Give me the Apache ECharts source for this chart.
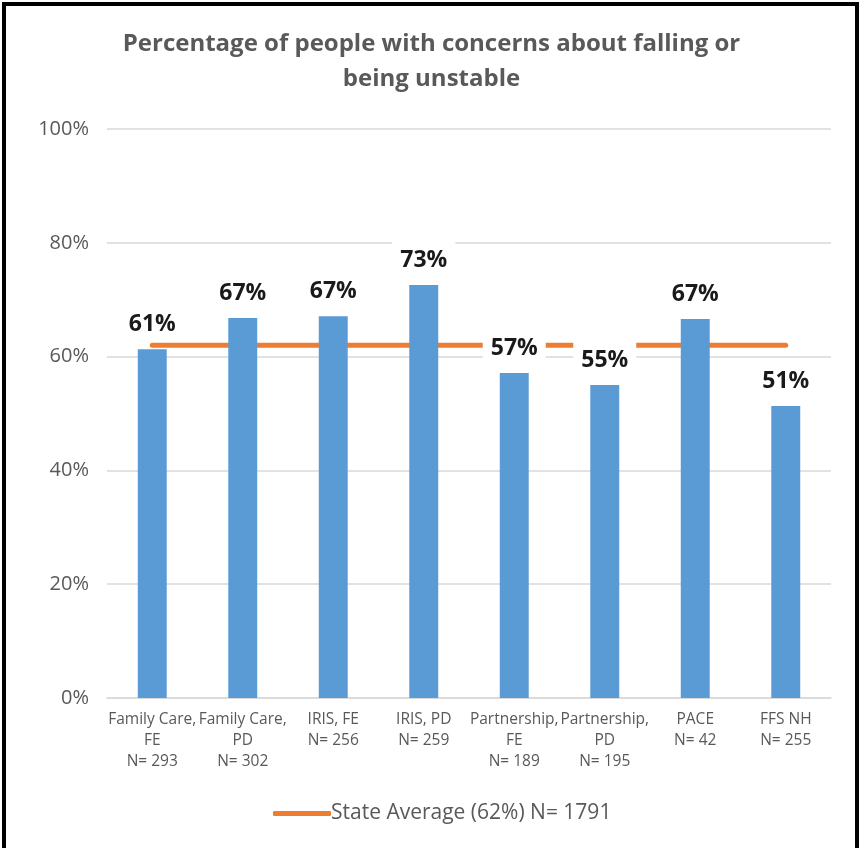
<!DOCTYPE html>
<html><head><meta charset="utf-8">
<script src="https://cdn.jsdelivr.net/npm/echarts@6/dist/echarts.min.js"></script>
<style>html,body{margin:0;padding:0;background:#fff}#c{width:863px;height:848px}</style>
</head><body><div id="c"></div>
<script>
const categories = ["Family Care,\nFE\nN= 293","Family Care,\nPD\nN= 302","IRIS, FE\nN= 256","IRIS, PD\nN= 259","Partnership,\nFE\nN= 189","Partnership,\nPD\nN= 195","PACE\nN= 42","FFS NH\nN= 255"];
const values = [61.3, 66.8, 67.1, 72.6, 57.1, 55.0, 66.6, 51.3];
const stateAverage = [62, 62, 62, 62, 62, 62, 62, 62];
const stateName = "State Average (62%) N= 1791";
const yTicks = [0, 20, 40, 60, 80, 100];

const chart = echarts.init(document.getElementById('c'));
const font = '"Open Sans", "Noto Sans", sans-serif';
chart.setOption({
  animation: false,
  title: {
    text: "Percentage of people with concerns about falling or\nbeing unstable",
    left: 'center', top: 22,
    textStyle: {fontFamily: font, fontSize: 24, fontWeight: 'bold', color: '#595959', lineHeight: 35}
  },
  graphic: [{type:'rect', shape:{x:4,y:4,width:853,height:852}, style:{fill:'none', stroke:'#000', lineWidth:4}, z:100}],
  legend: {
    top: 798, left: 268, itemWidth: 58, itemHeight: 5, itemGap: 0,
    icon: 'roundRect',
    textStyle: {fontFamily: font, fontSize: 21, color: '#595959', padding:[0,0,0,-5]},
    data: [stateName]
  },
  grid: {left: 107, right: 32, top: 129, bottom: 150, containLabel: false},
  xAxis: {
    type: 'category', data: categories,
    axisTick: {show: false},
    axisLine: {lineStyle: {color: '#d9d9d9', width: 1.5}},
    axisLabel: {fontFamily: font, fontSize: 15.5, color: '#595959', lineHeight: 21, margin: 11, interval: 0}
  },
  yAxis: {
    type: 'value', min: 0, max: 100, interval: 20,
    axisLabel: {formatter: v => yTicks.includes(v) ? v + '%' : '', fontFamily: font, fontSize: 20, color: '#595959', margin: 18},
    splitLine: {lineStyle: {color: '#d9d9d9', width: 1.5}},
    axisLine: {show: false}, axisTick: {show: false}
  },
  series: [
    {
      name: stateName, type: 'line', data: stateAverage, z: 1,
      symbol: 'none', color: '#ED7D31',
      lineStyle: {width: 5, color: '#ED7D31', cap: 'round'}
    },
    {
      name: 'values', type: 'bar', data: values, z: 5, barWidth: '32%',
      itemStyle: {color: '#5B9BD5'},
      label: {
        show: true, position: 'top', distance: 11,
        formatter: p => Math.round(p.value) + '%',
        fontFamily: font, fontSize: 23, fontWeight: 'bold', color: '#1a1a1a',
        backgroundColor: '#fff', padding: [9, 8, 2, 8]
      }
    }
  ]
});
</script></body></html>
